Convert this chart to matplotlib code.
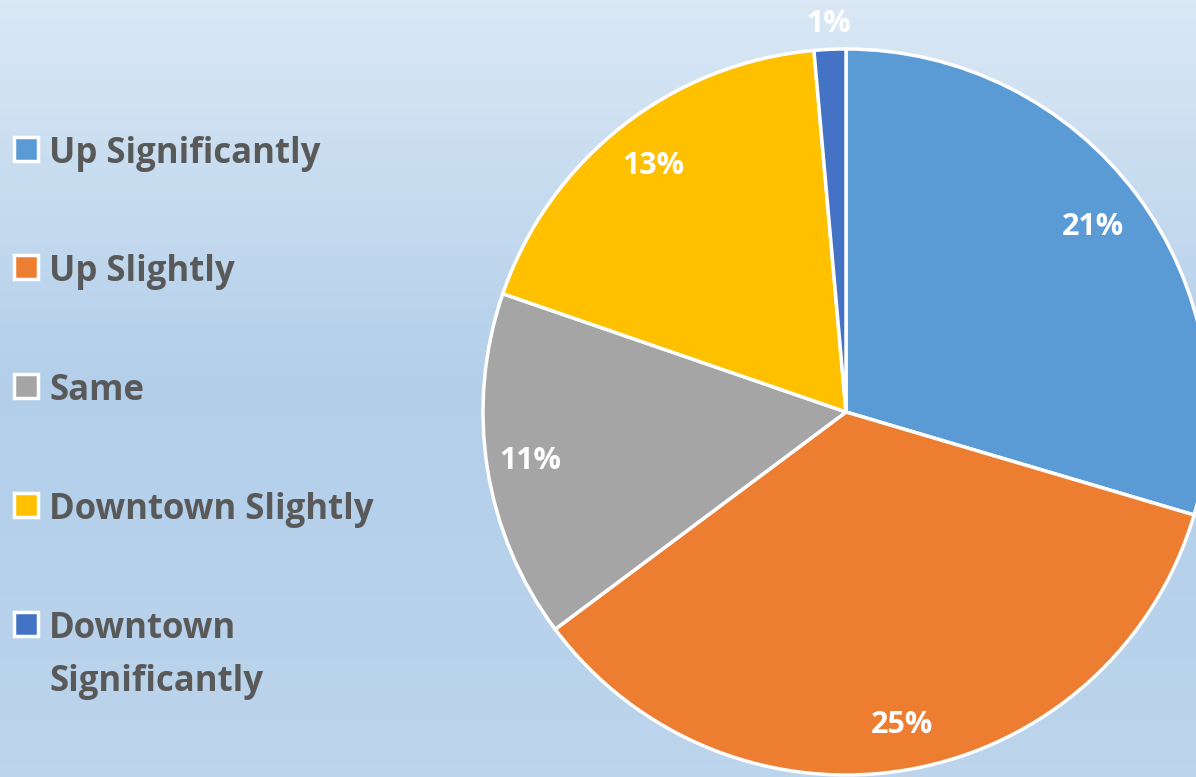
import matplotlib
matplotlib.use("Agg")
import matplotlib.pyplot as plt
import numpy as np
from matplotlib.patches import Rectangle

categorias = ["Up Significantly", "Up Slightly", "Same", "Downtown Slightly", "Downtown\nSignificantly"]
valores = [21, 25, 11, 13, 1]
colores = ["#5b9bd5", "#ed7d31", "#a5a5a5", "#ffc000", "#4472c4"]
etiquetas = [f"{v}%" for v in valores]

W, H = 1196, 777
fig = plt.figure(figsize=(W / 100, H / 100), dpi=100)

# fondo degradado
bg = fig.add_axes([0, 0, 1, 1], zorder=0)
grad = np.interp(np.linspace(0, 1, 256), [0, 0.5, 1], [0, 1, 0.75])
top = np.array([0.855, 0.91, 0.962])
mid = np.array([0.70, 0.81, 0.915])
img = top[None, :] * (1 - grad[:, None]) + mid[None, :] * grad[:, None]
bg.imshow(img[:, None, :], aspect="auto", extent=[0, 1, 0, 1])
bg.axis("off")

ax = fig.add_axes([0, 0, 1, 1], zorder=1)

cx, cy, r = 846, H - 412, 363
wedges, _ = ax.pie(valores, colors=colores, startangle=90, counterclock=False,
                   center=(cx, cy), radius=r,
                   wedgeprops=dict(edgecolor="white", linewidth=2.5))
ax.set_xlim(0, W)
ax.set_ylim(0, H)
ax.set_aspect("equal")
ax.axis("off")

dist = [0.85, 0.875, 0.88, 0.86, 1.07]
for w, lab, d in zip(wedges, etiquetas, dist):
    ang = np.deg2rad((w.theta1 + w.theta2) / 2)
    ax.text(cx + d * r * np.cos(ang), cy + d * r * np.sin(ang), lab,
            ha="center", va="center", color="white", fontsize=22,
            fontweight="bold", family="Open Sans")

# leyenda
ys = [150, 268, 387, 506, 625]
for cat, col, y in zip(categorias, colores, ys):
    ax.add_patch(Rectangle((14, H - y - 11), 24, 24, facecolor=col,
                           edgecolor="white", linewidth=2.5))
    for i, linea in enumerate(cat.split("\n")):
        ax.text(49, H - y + 1 - 53 * i, linea, ha="left", va="center_baseline",
                color="#595959", fontsize=25, fontweight="bold", family="Open Sans")

fig.savefig("out.png", dpi=100)
